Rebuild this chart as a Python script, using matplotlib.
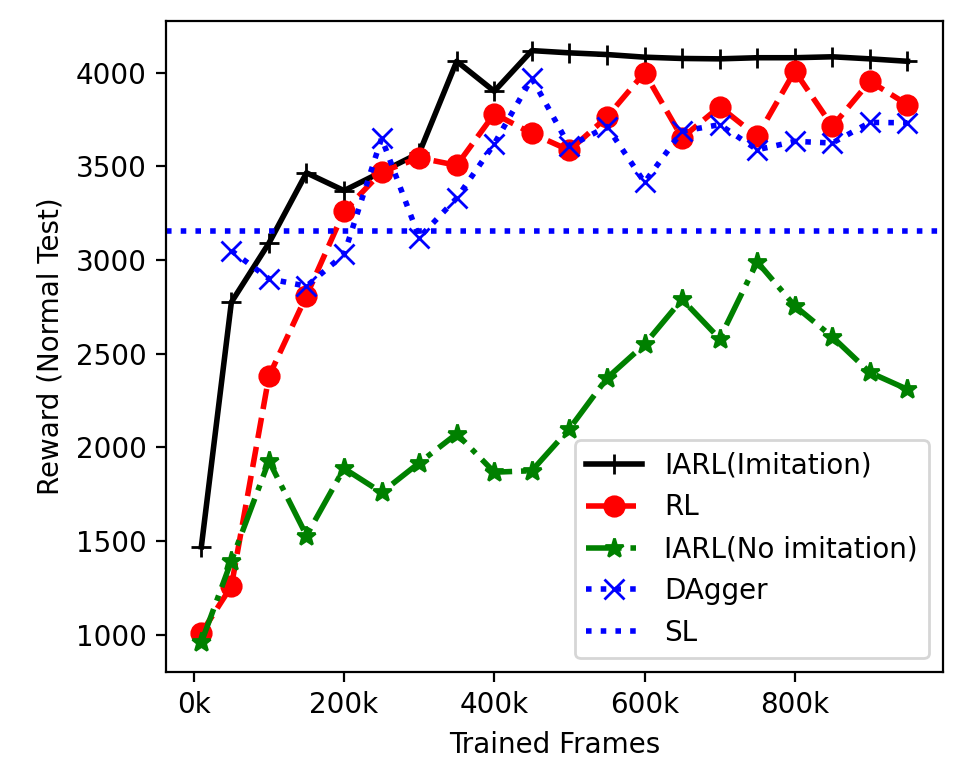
import matplotlib
matplotlib.use("Agg")
import matplotlib.pyplot as plt
from matplotlib.ticker import FuncFormatter

frames = [10, 50, 100, 150, 200, 250, 300, 350, 400, 450,
          500, 550, 600, 650, 700, 750, 800, 850, 900, 950]  # in thousands

iarl_imitation = [1470, 2775, 3090, 3465, 3370, 3470, 3570, 4060, 3900, 4117,
                  4105, 4096, 4082, 4075, 4073, 4079, 4079, 4084, 4073, 4060]
rl = [1010, 1260, 2380, 2810, 3260, 3470, 3545, 3505, 3780, 3675,
      3585, 3763, 4000, 3652, 3818, 3659, 4008, 3713, 3953, 3829]
iarl_no_imitation = [960, 1395, 1928, 1530, 1888, 1760, 1918, 2073, 1868, 1876,
                     2100, 2370, 2550, 2790, 2580, 2990, 2755, 2590, 2400, 2310]
dagger_frames = frames[1:]
dagger = [3050, 2900, 2860, 3030, 3650, 3120, 3330, 3620, 3970,
          3607, 3712, 3414, 3687, 3722, 3588, 3633, 3624, 3734, 3732]
sl_value = 3157

fig = plt.figure(figsize=(9.63 / 2, 7.64 / 2), dpi=200)
ax = fig.add_axes([0.1724, 0.1204, 0.979 - 0.1724, 0.9725 - 0.1204])

lw = 2.0
ax.plot(frames, iarl_imitation, color="black", linestyle="-", marker="+",
        markersize=7, linewidth=lw, label="IARL(Imitation)")
ax.plot(frames, rl, color="red", linestyle="--", marker="o",
        markersize=7, linewidth=lw, label="RL")
ax.plot(frames, iarl_no_imitation, color="green", linestyle="-.", marker="*",
        markersize=7, linewidth=lw, label="IARL(No imitation)")
ax.plot(dagger_frames, dagger, color="blue", linestyle=":", marker="x",
        markersize=7, linewidth=lw, label="DAgger")
ax.axhline(sl_value, color="blue", linestyle=":", linewidth=lw, label="SL")

ax.set_xticks([0, 200, 400, 600, 800])
ax.xaxis.set_major_formatter(FuncFormatter(lambda v, p: f"{int(v)}k"))
ax.set_yticks([1000, 1500, 2000, 2500, 3000, 3500, 4000])

ax.set_xlabel("Trained Frames")
ax.set_ylabel("Reward (Normal Test)")
ax.legend(loc="lower right")

fig.savefig("out.png", dpi=200)
